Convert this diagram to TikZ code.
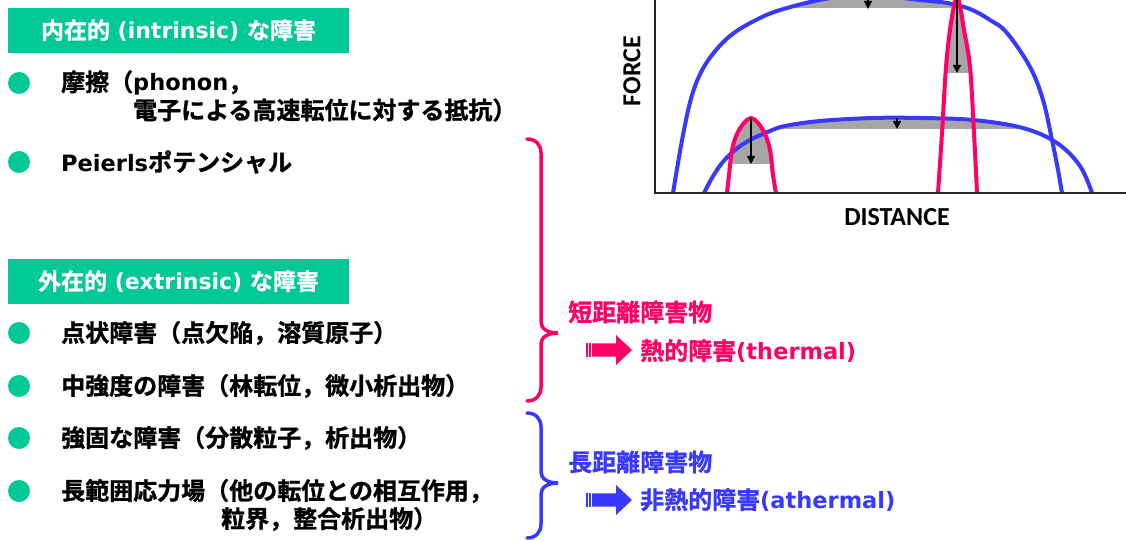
\documentclass[tikz,border=0pt]{standalone}
\usepackage{fontspec}
\usetikzlibrary{arrows.meta}
\newfontfamily\jp{Noto Sans CJK JP}[UprightFont=* Bold, FakeBold=1.2]
\newfontfamily\lat{DejaVu Sans}[UprightFont=* Bold]
\newfontfamily\lab{Carlito}[UprightFont=* Bold]
\definecolor{hdr}{HTML}{00C896}
\definecolor{pk}{HTML}{FF0066}
\definecolor{bl}{HTML}{3838FF}
\definecolor{gr}{HTML}{A6A6A6}
\newcommand\enx[1]{{\lat\fontsize{22.5}{27}\selectfont #1}}
\newcommand\enh{\lat\fontsize{22}{26}\selectfont}
\newcommand\pBigBlue{plot[smooth,tension=0.6] coordinates {(673,193) (683,135) (693,92) (707,62) (730,36) (760,18) (787,8) (830,-2) (870,-5) (920,0) (947,3) (970,9) (990,20) (1007,33) (1030,67) (1043,100) (1052,140) (1058,170) (1062,193)}}
\newcommand\pLowBlue{plot[smooth,tension=0.6] coordinates {(704,193) (712,178) (722,163) (735,150) (750,140) (770,131) (785,126) (820,121) (873,118) (920,118) (973,120) (1023,128) (1057,143) (1080,166) (1092,193)}}
\newcommand\pTallPink{plot[smooth,tension=0.6] coordinates {(938,193) (942,133) (946,67) (950,30) (954,6) (957,-2) (960,6) (964,30) (970,67) (974,133) (977,193)}}
\newcommand\pSmallPink{plot[smooth,tension=0.6] coordinates {(727,193) (729,175) (732,150) (737,134) (744,123) (751,118) (758,123) (765,134) (770,150) (773,175) (776,193)}}
\tikzset{
  hdrbox/.style={fill=hdr, text=white, minimum width=341, minimum height=45, inner sep=0pt, font=\jp\fontsize{23}{27}\selectfont},
  bul/.style={circle, fill=hdr, minimum size=22, inner sep=0pt},
  tx/.style={anchor=west, inner sep=0pt, font=\jp\fontsize{24}{28}\selectfont},
  lbl/.style={anchor=west, inner sep=0pt, font=\jp\fontsize{24}{28}\selectfont},
  brace/.style={line width=3.5, line cap=round},
  curve/.style={line width=4, line cap=round},
  axlab/.style={inner sep=0pt, font=\lab\fontsize{26}{30}\selectfont},
  darr/.style={line width=1.3, -{Triangle[length=8,width=8]}},
  stripearrow/.pic={
    \fill (0,-6.7) rectangle (1.5,6.7);
    \fill (3,-6.7) rectangle (4.5,6.7);
    \fill (6,-6.7) -- (30,-6.7) -- (30,-15) -- (46,0) -- (30,15) -- (30,6.7) -- (6,6.7) -- cycle;
  }
}
\begin{document}
\begin{tikzpicture}[x=1pt,y=-1pt]
\useasboundingbox (0,0) rectangle (1126,540);
% headers
\node[hdrbox] (h1) at (178.5,30.5) {内在的{\enh{} (intrinsic) }な障害};
\node[hdrbox] (h2) at (178.5,281.5) {外在的{\enh{} (extrinsic) }な障害};
% bullets
\node[bul] (b1) at (19,83) {};
\node[bul] (b2) at (19,162) {};
\node[bul] (b3) at (19,333) {};
\node[bul] (b4) at (19,386) {};
\node[bul] (b5) at (19,438) {};
\node[bul] (b6) at (19,491) {};
% texts
\node[tx] (t1) at (61,83) {摩擦（\enx{phonon}，};
\node[tx] (t1b) at (133,110) {電子による高速転位に対する抵抗）};
\node[tx] (t2) at (61,162) {\enx{Peierls}ポテンシャル};
\node[tx] (t3) at (61,333) {点状障害（点欠陥，溶質原子）};
\node[tx] (t4) at (61,386) {中強度の障害（林転位，微小析出物）};
\node[tx] (t5) at (61,438) {強固な障害（分散粒子，析出物）};
\node[tx] (t6) at (61,491) {長範囲応力場（他の転位との相互作用，};
\node[tx] (t6b) at (221,519) {粒界，整合析出物）};
% braces
\draw[brace, pk] (527,139) .. controls (536,139) and (541,145) .. (541,153) -- (541,322) .. controls (541,329) and (548,333) .. (558,333) .. controls (548,333) and (541,337) .. (541,344) -- (541,387) .. controls (541,395) and (536,401) .. (527,401);
\draw[brace, bl] (527,413) .. controls (536,413) and (541,419) .. (541,427) -- (541,472) .. controls (541,479) and (548,483) .. (558,483) .. controls (548,483) and (541,487) .. (541,494) -- (541,524) .. controls (541,532) and (536,538) .. (527,538);
% labels
\node[lbl, text=pk] (s1) at (568,312) {短距離障害物};
\pic[color=pk] at (586,350) {stripearrow};
\node[lbl, text=pk] (s2) at (640,351) {熱的障害\enx{(thermal)}};
\node[lbl, text=bl] (l1) at (568,462) {長距離障害物};
\pic[color=bl] at (586,500) {stripearrow};
\node[lbl, text=bl] (l2) at (640,500) {非熱的障害\enx{(athermal)}};
% graph
\begin{scope}
\clip (656,0) rectangle (1126,192);
\begin{scope}\clip \pBigBlue -- cycle; \fill[gr] (770,-20) rectangle (952,8);\end{scope}
\begin{scope}\clip \pLowBlue -- cycle; \fill[gr] (760,100) rectangle (1025,129);\end{scope}
\begin{scope}\clip \pTallPink -- cycle; \fill[gr] (930,-20) rectangle (990,73);\end{scope}
\begin{scope}\clip \pSmallPink -- cycle; \fill[gr] (720,100) rectangle (780,164);\end{scope}
\draw[curve, bl] \pBigBlue;
\draw[curve, bl] \pLowBlue;
\draw[curve, pk] \pTallPink;
\draw[curve, pk] \pSmallPink;
\coordinate (a1s) at (868,-2); \coordinate (a1e) at (868,9);
\coordinate (a2s) at (897,118); \coordinate (a2e) at (897,129);
\coordinate (a3s) at (751,118); \coordinate (a3e) at (751,164);
\coordinate (a4s) at (957,-2); \coordinate (a4e) at (957,73);
\draw[darr] (a1s) -- (a1e);
\draw[darr] (a2s) -- (a2e);
\draw[darr] (a3s) -- (a3e);
\draw[darr] (a4s) -- (a4e);
\end{scope}
\coordinate (ax0) at (655,0);
\coordinate (axo) at (655,193);
\coordinate (ax1) at (1126,193);
\draw[line width=1.5, black!85] (ax0) -- (axo) -- (ax1);
\node[axlab, rotate=90] (fy) at (632,71) {FORCE};
\node[axlab] (fx) at (897,217) {DISTANCE};
\end{tikzpicture}
\end{document}
